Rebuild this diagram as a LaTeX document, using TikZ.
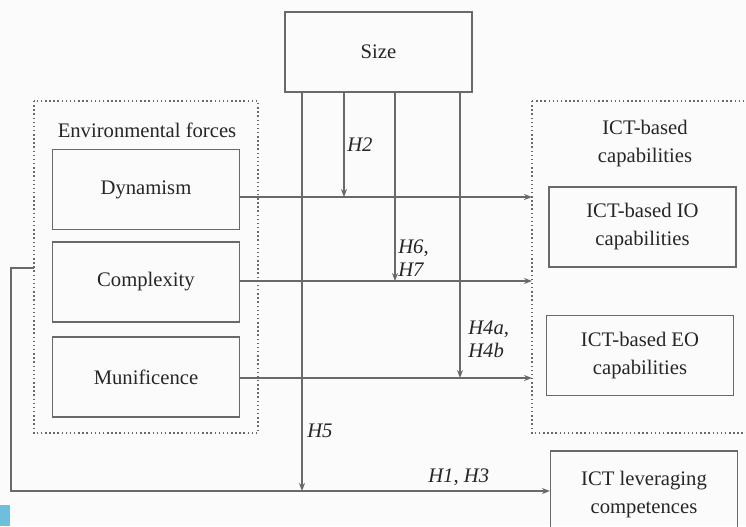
\documentclass[tikz,border=0pt]{standalone}
\usepackage{fontspec}
\setmainfont{Liberation Serif}
\usetikzlibrary{arrows.meta,positioning}
\definecolor{linegray}{RGB}{105,105,105}
\definecolor{bggray}{RGB}{251,251,251}
\definecolor{cornerblue}{RGB}{110,190,220}

\begin{document}
\begin{tikzpicture}[x=0.75pt, y=-0.75pt,
    every node/.style={font=\fontsize{15.5}{21}\selectfont, text=black!85},
    box/.style={rectangle, draw=linegray, line width=1.1pt, minimum width=140pt, minimum height=60pt, align=center, inner sep=0pt},
    group/.style={draw=linegray, line width=1.1pt, dotted},
    arr/.style={draw=linegray, line width=1.1pt, -{Stealth[length=6pt, width=4.5pt]}},
    link/.style={draw=linegray, line width=1.1pt},
    hyp/.style={font=\fontsize{15.5}{17}\selectfont\itshape, align=left, inner sep=0pt, anchor=west}]
    % Frame
    \useasboundingbox[fill=bggray] (0,0) rectangle (746,526);
    \fill[cornerblue] (0,505) rectangle (10,526);

    % Define nodes
    \node[box, minimum width=140.25pt] (size) at (378.5,52) {Size};
    \node[box] (dyn) at (146,189.5) {Dynamism};
    \node[box] (cpx) at (146,282) {Complexity};
    \node[box] (mun) at (146,377) {Munificence};
    \node[box] (io) at (642.5,227) {ICT-based IO\\capabilities};
    \node[box] (eo) at (640,355.5) {ICT-based EO\\capabilities};
    \node[box, minimum height=66pt] (lev) at (644,495) {ICT leveraging\\competences};

    % Dotted groups
    \draw[group] (34,101) rectangle (258,433);
    \node (envlab) at (147,130) {Environmental forces};
    \draw[group] (532,101) -- (760,101) (532,101) -- (532,433) -- (760,433);
    \node[align=center] (caplab) at (645,144) {ICT-based\\capabilities};

    % Targets on the capabilities group
    \coordinate (capA) at (532,197);
    \coordinate (capB) at (532,281);
    \coordinate (capC) at (532,378);
    \coordinate (fb) at (34,268);

    % Main effects
    \draw[arr] (dyn.east |- capA) -- (capA);
    \draw[arr] (cpx.east |- capB) -- (capB);
    \draw[arr] (mun.east |- capC) -- (capC);
    \draw[arr] (fb) -- (11,268) -- (11,491) -- (lev.west |- 0,491);

    % Moderating effects of size
    \draw[arr] (size.south -| 344,0) -- (344,197);
    \draw[arr] (size.south -| 395,0) -- (395,281);
    \draw[arr] (size.south -| 460,0) -- (460,378);
    \draw[arr] (size.south -| 302,0) -- (302,491);

    % Hypotheses
    \node[hyp] (h2) at (347,145) {H2};
    \node[hyp] (h67) at (398,258) {H6\upshape,\\H7};
    \node[hyp] (h4) at (468,339) {H4a\upshape,\\H4b};
    \node[hyp] (h5) at (307,431) {H5};
    \node[hyp] (h13) at (428,477) {H1\upshape, \itshape H3};
\end{tikzpicture}
\end{document}
